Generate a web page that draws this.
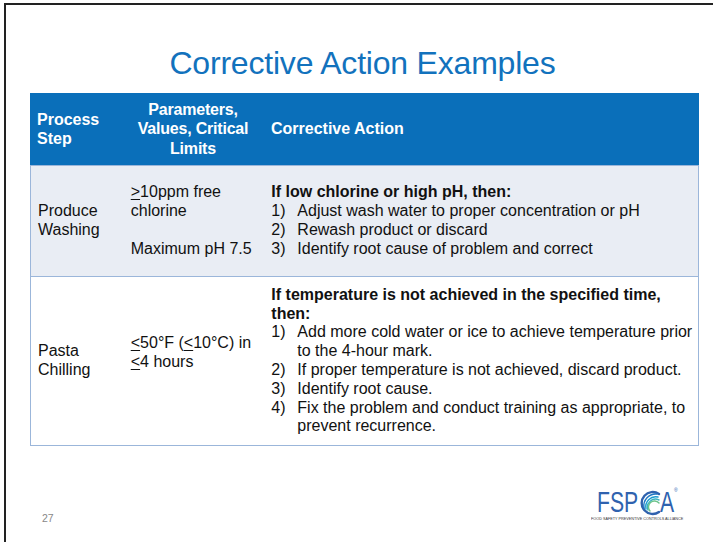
<!DOCTYPE html>
<html>
<head>
<meta charset="utf-8">
<script src="https://cdn.jsdelivr.net/npm/chart.js@4"></script>
<style>
  html, body { margin:0; padding:0; background:#fff; }
  body { width:713px; height:542px; position:relative; overflow:hidden; font-family:"Liberation Sans", Arial, sans-serif; }
  #frame { position:absolute; left:4px; top:3px; width:720px; height:560px; border-left:2px solid #222; border-top:2px solid #222; }
  #title { position:absolute; left:0; width:725px; top:45px; text-align:center; font-size:32px; color:#1272bd; letter-spacing:-0.2px; }
  #tbl { position:absolute; left:30px; top:93px; width:669px; }
  .row { display:flex; position:relative; }
  .cell { display:flex; flex-direction:column; justify-content:center; box-sizing:border-box; font-size:16px; line-height:18.8px; color:#111; }
  .hdr { background:#0a6fba; color:#fff; font-weight:bold; height:72px; }
  .hdr .cell { color:#fff; line-height:19.5px; }
  .r1 { background:#e9edf4; height:110px; border-top:1.5px solid #9bb6da; }
  .r2 { background:#fff; height:168px; border-top:1.5px solid #9bb6da; border-bottom:1.5px solid #9bb6da; }
  .r1, .r2 { border-left:1.5px solid #9bb6da; border-right:1.5px solid #9bb6da; }
  .c1 { width:94px; padding-left:7px; }
  .c2 { width:138px; padding-left:6px; }
  .c3 { width:437px; padding-left:9px; padding-right:4px; }
  .hdr .c2 { text-align:center; padding-left:0; letter-spacing:-0.2px; }
  .r2 .c2 { padding-bottom:16px; }
  .item { display:flex; }
  .num { width:26px; flex:none; }
  u { text-decoration:underline; text-underline-offset:2px; text-decoration-thickness:1px; }
  #page { position:absolute; left:42px; top:512px; font-size:10.5px; color:#888; }
  .lg { position:absolute; font-size:29px; line-height:29px; color:#2f62ae; transform-origin:0 0; transform:scaleX(0.73); white-space:nowrap; }
  #sub { position:absolute; left:591px; top:517px; font-size:8px; line-height:8px; color:#333; white-space:nowrap; transform-origin:0 0; transform:scale(0.47,0.5); }
  #reg { position:absolute; left:674px; top:488px; font-size:5px; line-height:5px; color:#2f62ae; }
</style>
</head>
<body>
<div id="frame"></div>
<div id="title"></div>
<div id="tbl"></div>
<div id="page"></div>
<div class="lg" style="left:597px;top:488px">FSP</div>
<svg width="30" height="30" style="position:absolute;left:636px;top:489px">
  <g fill="none" stroke-linecap="round">
    <path d="M23 5 A11 11 0 1 0 23 23" stroke="#2f62ae" stroke-width="2.4"/>
    <path d="M8 19 A12 12 0 0 1 21 5" stroke="#1f77c4" stroke-width="1.4"/>
    <path d="M10 20 A10 10 0 0 1 22 8" stroke="#1a9bd0" stroke-width="1.4"/>
    <path d="M12 21 A8 8 0 0 1 23 11" stroke="#3bb3c0" stroke-width="1.4"/>
    <path d="M14 22 A6 6 0 0 1 23 14" stroke="#6cc38a" stroke-width="1.4"/>
  </g>
</svg>
<div class="lg" style="left:660px;top:488px">A</div>
<div id="reg">®</div>
<div id="sub">FOOD SAFETY PREVENTIVE CONTROLS ALLIANCE</div>
<script>
// ---- content data ----
const slideTitle = "Corrective Action Examples";
const pageNumber = "27";
const headers = ["Process<br>Step", "Parameters,<br>Values, Critical<br>Limits", "Corrective Action"];
const processSteps = ["Produce<br>Washing", "Pasta<br>Chilling"];
const parameters = [
  "<u>&gt;</u>10ppm free<br>chlorine<br>&nbsp;<br>Maximum pH 7.5",
  "<u>&lt;</u>50°F (<u>&lt;</u>10°C) in<br><u>&lt;</u>4 hours"
];
const conditions = [
  "If low chlorine or high pH, then:",
  "If temperature is not achieved in the specified time,<br>then:"
];
const actions = [
  ["Adjust wash water to proper concentration or pH", "Rewash product or discard", "Identify root cause of problem and correct"],
  ["Add more cold water or ice to achieve temperature prior to the 4-hour mark.", "If proper temperature is not achieved, discard product.", "Identify root cause.", "Fix the problem and conduct training as appropriate, to prevent recurrence."]
];

document.getElementById('title').textContent = slideTitle;
document.getElementById('page').textContent = pageNumber;

const tbl = document.getElementById('tbl');
let html = '<div class="row hdr">' +
  '<div class="cell c1"><div>' + headers[0] + '</div></div>' +
  '<div class="cell c2"><div>' + headers[1] + '</div></div>' +
  '<div class="cell c3"><div>' + headers[2] + '</div></div></div>';
processSteps.forEach((step, i) => {
  let items = actions[i].map((a, k) => '<div class="item"><span class="num">' + (k + 1) + ')</span><span>' + a + '</span></div>').join('');
  html += '<div class="row r' + (i + 1) + '">' +
    '<div class="cell c1"><div>' + step + '</div></div>' +
    '<div class="cell c2"><div>' + parameters[i] + '</div></div>' +
    '<div class="cell c3"><div style="font-weight:bold">' + conditions[i] + '</div>' + items + '</div></div>';
});
tbl.innerHTML = html;
</script>
</body>
</html>
